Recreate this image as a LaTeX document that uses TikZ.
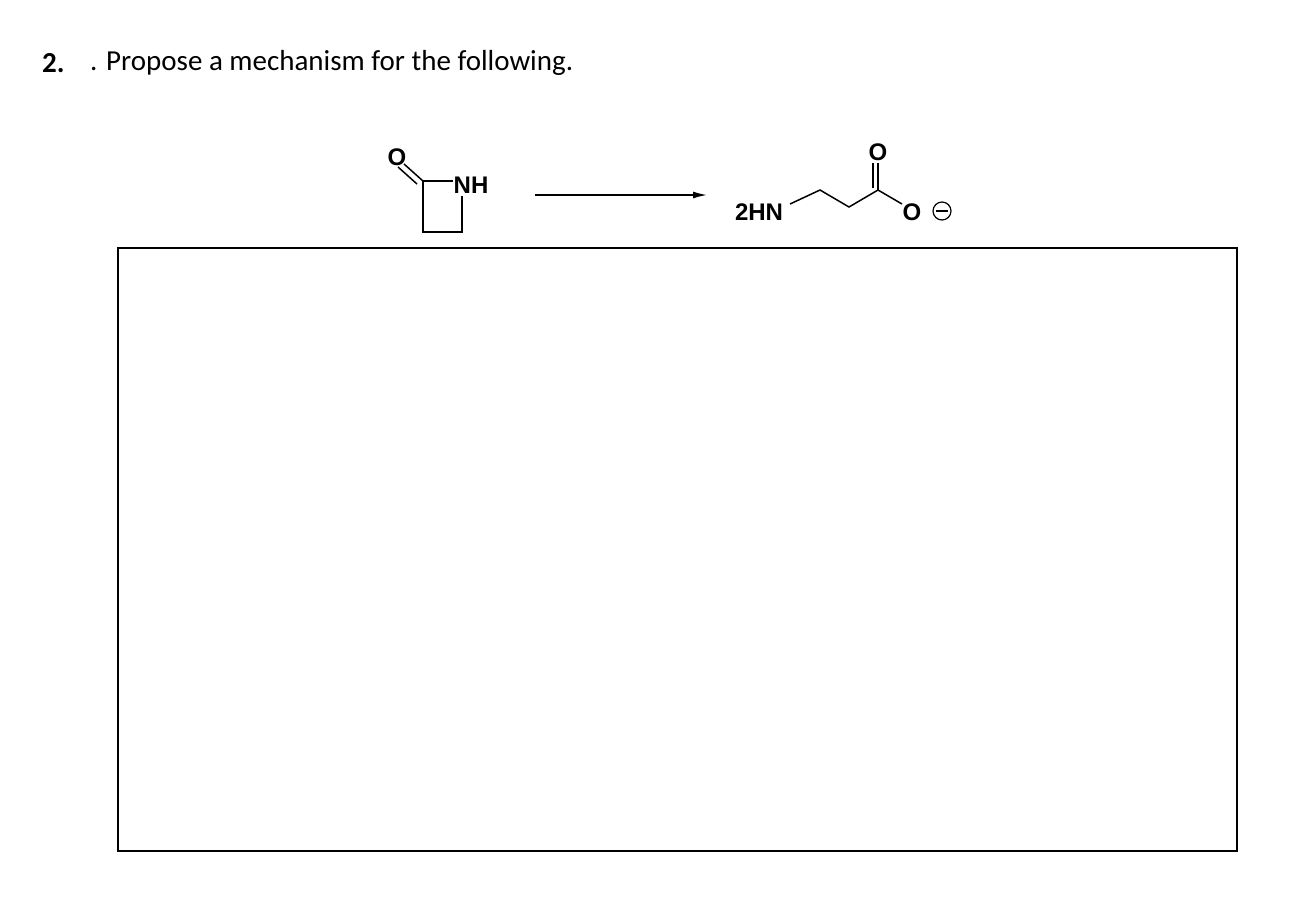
\documentclass[tikz,border=0pt]{standalone}
\usepackage{fontspec}
\usetikzlibrary{arrows.meta}
\setmainfont{Carlito}
\newfontfamily\chemf{Liberation Sans}
\begin{document}
\begin{tikzpicture}[x=1pt,y=-1pt,
  bond/.style={line width=1.5pt},
  atom/.style={font=\chemf\bfseries\fontsize{24}{24}\selectfont,inner sep=0pt},
  ttl/.style={font=\fontsize{29}{29}\selectfont,anchor=west,inner sep=0pt}]
\useasboundingbox (0,0) rectangle (1292,914);
\node[ttl,font=\bfseries\fontsize{29}{29}\selectfont] (num) at (42,63) {2.};
\node[ttl] (title) at (90,63) {. Propose a mechanism for the following.};
% reactant
\node[atom] (o1) at (397,157) {O};
\node[atom] (nh) at (471,185) {NH};
\coordinate (c1) at (423,181);
\coordinate (c2) at (423,232);
\coordinate (c3) at (462,232);
\coordinate (c4) at (462,196);
\draw[bond] (c1) -- (nh.west |- c1);
\draw[bond] (c1) -- (c2) -- (c3) -- (c4);
\draw[bond] (c1) -- (404,164);
\draw[bond] (417,184) -- (398,167);
% arrow
\coordinate (a1) at (535,195);
\coordinate (a2) at (707,195);
\draw[line width=1.5pt,-{Latex[length=14pt,width=7pt]}] (a1) -- (a2);
% product
\node[atom] (n2) at (759,212) {2HN};
\coordinate (p1) at (820,190);
\coordinate (p2) at (849,207);
\coordinate (p3) at (878,190);
\node[atom] (o2) at (878,152) {O};
\node[atom] (o3) at (912,212) {O};
\draw[bond] (790,204) -- (p1) -- (p2) -- (p3) -- (902,204);
\draw[bond] (p3) -- (878,163);
\draw[bond] (873,188) -- (873,163);
\node[draw,circle,line width=1.2pt,minimum size=18pt,inner sep=0pt] (minus) at (942,211) {};
\draw[line width=1.6pt] (936,211) -- (948,211);
% answer box
\node[draw,line width=2pt,minimum width=1119pt,minimum height=603pt,inner sep=0pt] (box) at (677.5,549.5) {};
\end{tikzpicture}
\end{document}
